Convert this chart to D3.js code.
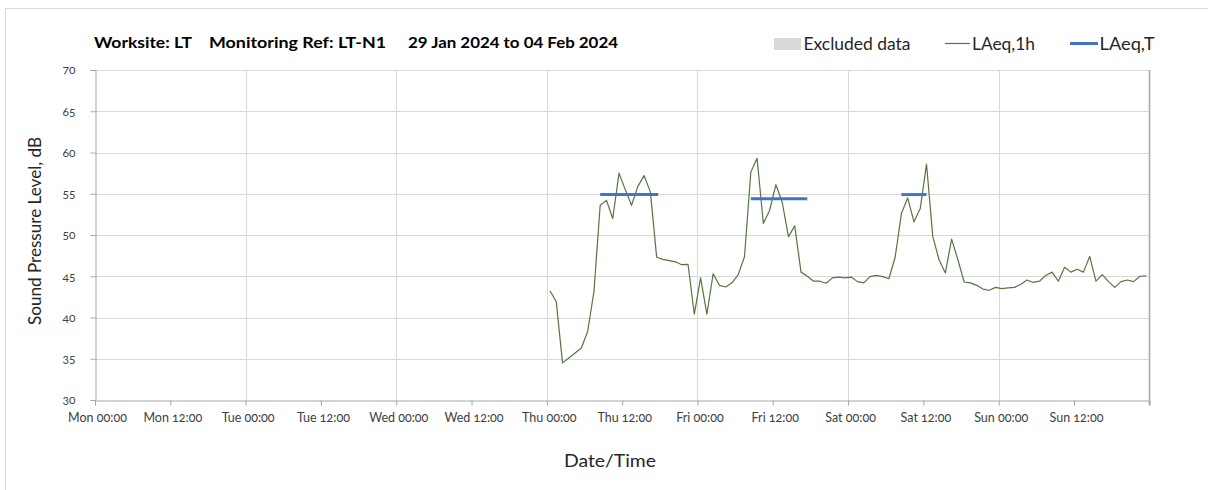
<!DOCTYPE html>
<html>
<head>
<meta charset="utf-8">
<script src="https://cdn.jsdelivr.net/npm/d3@7"></script>
<style>
  html, body { margin: 0; padding: 0; background: #fff; }
  svg { display: block; font-family: Lato, "Open Sans", sans-serif; }
</style>
</head>
<body>
<svg id="chart" width="1208" height="490"></svg>
<script>
// ---------------- data ----------------
const titleParts = ["Worksite: LT", "Monitoring Ref: LT-N1", "29 Jan 2024 to 04 Feb 2024"];
const legendLabels = ["Excluded data", "LAeq,1h", "LAeq,T"];
const xTitle = "Date/Time";
const yTitle = "Sound Pressure Level, dB";

// Hourly LAeq,1h values, first reading at Thu 01 Feb 2024 00:30, one per hour
const firstReading = "2024-02-01T00:30:00Z";
const laeqThu = [43.25, 41.9, 34.5, 35.1, 35.7, 36.3, 38.3, 43.1, 53.6, 54.2, 52.0, 57.5,
                 55.5, 53.6, 55.9, 57.2, 55.2, 47.3, 47.05, 46.9, 46.75, 46.4, 46.45, 40.4];
const laeqFri = [44.8, 40.4, 45.3, 43.9, 43.7, 44.2, 45.2, 47.4, 57.6, 59.3, 51.4, 53.0,
                 56.1, 54.0, 49.8, 51.1, 45.5, 45.0, 44.4, 44.4, 44.15, 44.8, 44.9, 44.8];
const laeqSat = [44.9, 44.35, 44.2, 44.95, 45.1, 44.95, 44.7, 47.3, 52.6, 54.5, 51.6, 53.2,
                 58.6, 49.8, 47.0, 45.4, 49.5, 47.0, 44.3, 44.2, 43.9, 43.45, 43.3, 43.65];
const laeqSun = [43.5, 43.6, 43.65, 44.0, 44.55, 44.25, 44.4, 45.1, 45.5, 44.4, 46.1, 45.5,
                 45.85, 45.5, 47.4, 44.4, 45.2, 44.35, 43.65, 44.35, 44.55, 44.35, 45.0, 45.05];

// LAeq,T period results
const periodStart = ["2024-02-01T08:30:00Z", "2024-02-02T08:30:00Z", "2024-02-03T08:30:00Z"];
const periodEnd   = ["2024-02-01T17:45:00Z", "2024-02-02T17:30:00Z", "2024-02-03T12:30:00Z"];
const periodValue = [54.9, 54.4, 54.9];

// axes
const xDomain = ["2024-01-29T00:00:00Z", "2024-02-05T00:00:00Z"];
const xTickLabels = ["Mon 00:00", "Mon 12:00", "Tue 00:00", "Tue 12:00", "Wed 00:00", "Wed 12:00",
                     "Thu 00:00", "Thu 12:00", "Fri 00:00", "Fri 12:00", "Sat 00:00", "Sat 12:00",
                     "Sun 00:00", "Sun 12:00", ""];
const yTicks = [30, 35, 40, 45, 50, 55, 60, 65, 70];

// ---------------- layout ----------------
const svg = d3.select("#chart");
const plot = { left: 95, right: 1149.3, top: 70, bottom: 400 };
const textColor = "#262626";

svg.append("rect").attr("width", 1208).attr("height", 490).attr("fill", "#fff");
svg.append("rect").attr("x", 5.5).attr("y", 8.5).attr("width", 1400).attr("height", 700)
   .attr("fill", "none").attr("stroke", "#d9d9d9");

const x = d3.scaleUtc().domain(xDomain.map(d => new Date(d))).range([plot.left, plot.right]);
const y = d3.scaleLinear().domain([30, 70]).range([plot.bottom, plot.top]);

const allValues = [...laeqThu, ...laeqFri, ...laeqSat, ...laeqSun];
const t0 = new Date(firstReading);
const series = allValues.map((v, i) => ({ t: d3.utcHour.offset(t0, i), v }));

const xTickValues = xTickLabels.map((_, i) => d3.utcHour.offset(new Date(xDomain[0]), 12 * i));
const dayLines = d3.utcDay.range(d3.utcDay.offset(new Date(xDomain[0]), 1), new Date(xDomain[1]));

// gridlines
const grid = svg.append("g").attr("stroke", "#d9d9d9").attr("stroke-width", 1);
grid.selectAll("line.h").data(yTicks.filter(d => d > 30)).join("line")
    .attr("x1", plot.left).attr("x2", plot.right)
    .attr("y1", d => Math.round(y(d)) + 0.5).attr("y2", d => Math.round(y(d)) + 0.5);
grid.selectAll("line.v").data(dayLines).join("line")
    .attr("x1", d => Math.round(x(d)) + 0.5).attr("x2", d => Math.round(x(d)) + 0.5)
    .attr("y1", plot.top).attr("y2", plot.bottom);

// right frame
svg.append("line").attr("x1", Math.round(plot.right) + 0.5).attr("x2", Math.round(plot.right) + 0.5)
   .attr("y1", plot.top).attr("y2", plot.bottom + 5).attr("stroke", "#a6a6a6").attr("stroke-width", 1.5);

// y axis
const yAxis = svg.append("g").attr("transform", `translate(${plot.left + 0.5},0)`)
  .call(d3.axisLeft(y).tickValues(yTicks).tickSize(5).tickPadding(15).tickFormat(d3.format("d")));
yAxis.select(".domain").attr("stroke", "#a6a6a6");
yAxis.selectAll(".tick line").attr("stroke", "#a6a6a6");
yAxis.selectAll("text").attr("fill", "#404040").attr("font-size", 12)
     .style("font-variant-numeric", "oldstyle-nums").attr("font-family", "Lato, sans-serif");

// x axis
const xAxis = svg.append("g").attr("transform", `translate(0,${plot.bottom + 0.5})`)
  .call(d3.axisBottom(x).tickValues(xTickValues).tickSize(5).tickPadding(8)
        .tickFormat((d, i) => xTickLabels[i]));
xAxis.select(".domain").attr("stroke", "#a6a6a6");
xAxis.selectAll(".tick line").attr("stroke", "#a6a6a6");
xAxis.selectAll("text").attr("fill", "#404040").attr("font-size", 12.5)
     .attr("dx", 2)
     .style("font-variant-numeric", "oldstyle-nums").attr("font-family", "Lato, sans-serif");

// LAeq,1h line
svg.append("path").datum(series)
   .attr("fill", "none").attr("stroke", "#557542").attr("stroke-width", 1.2)
   .attr("stroke-linejoin", "round")
   .attr("d", d3.line().x(d => x(d.t)).y(d => y(d.v)));

// LAeq,T segments
svg.append("g").selectAll("line").data(periodValue).join("line")
   .attr("x1", (d, i) => x(new Date(periodStart[i])))
   .attr("x2", (d, i) => x(new Date(periodEnd[i])))
   .attr("y1", d => y(d)).attr("y2", d => y(d))
   .attr("stroke", "#4472c4").attr("stroke-width", 3);

// axis titles
svg.append("text").attr("x", 564).attr("y", 467)
   .attr("font-size", 17).attr("fill", textColor)
   .attr("textLength", 92).attr("lengthAdjust", "spacingAndGlyphs").text(xTitle);
svg.append("text").attr("transform", "translate(41,325) rotate(-90)")
   .attr("font-size", 17).attr("fill", textColor)
   .attr("textLength", 188).attr("lengthAdjust", "spacingAndGlyphs").text(yTitle);

// title
const titleX = [94, 209, 408];
const titleW = [98, 177, 210];
svg.append("g").selectAll("text").data(titleParts).join("text")
   .attr("x", (d, i) => titleX[i]).attr("y", 48)
   .attr("font-size", 16).attr("font-weight", "bold").attr("fill", "#000")
   .attr("textLength", (d, i) => titleW[i]).attr("lengthAdjust", "spacingAndGlyphs")
   .text(d => d);

// legend
const lg = svg.append("g");
lg.append("rect").attr("x", 774).attr("y", 38).attr("width", 27).attr("height", 12).attr("fill", "#d9d9d9");
lg.append("line").attr("x1", 945).attr("x2", 970).attr("y1", 43.5).attr("y2", 43.5)
  .attr("stroke", "#557542").attr("stroke-width", 1.2);
lg.append("line").attr("x1", 1070).attr("x2", 1098).attr("y1", 43.5).attr("y2", 43.5)
  .attr("stroke", "#4472c4").attr("stroke-width", 3);
const legX = [803.5, 972, 1099.5];
const legW = [107, 63, 55];
lg.selectAll("text").data(legendLabels).join("text")
  .attr("x", (d, i) => legX[i]).attr("y", 50)
  .attr("font-size", 16.5).attr("fill", textColor)
  .attr("textLength", (d, i) => legW[i]).attr("lengthAdjust", "spacingAndGlyphs")
  .text(d => d);
</script>
</body>
</html>
